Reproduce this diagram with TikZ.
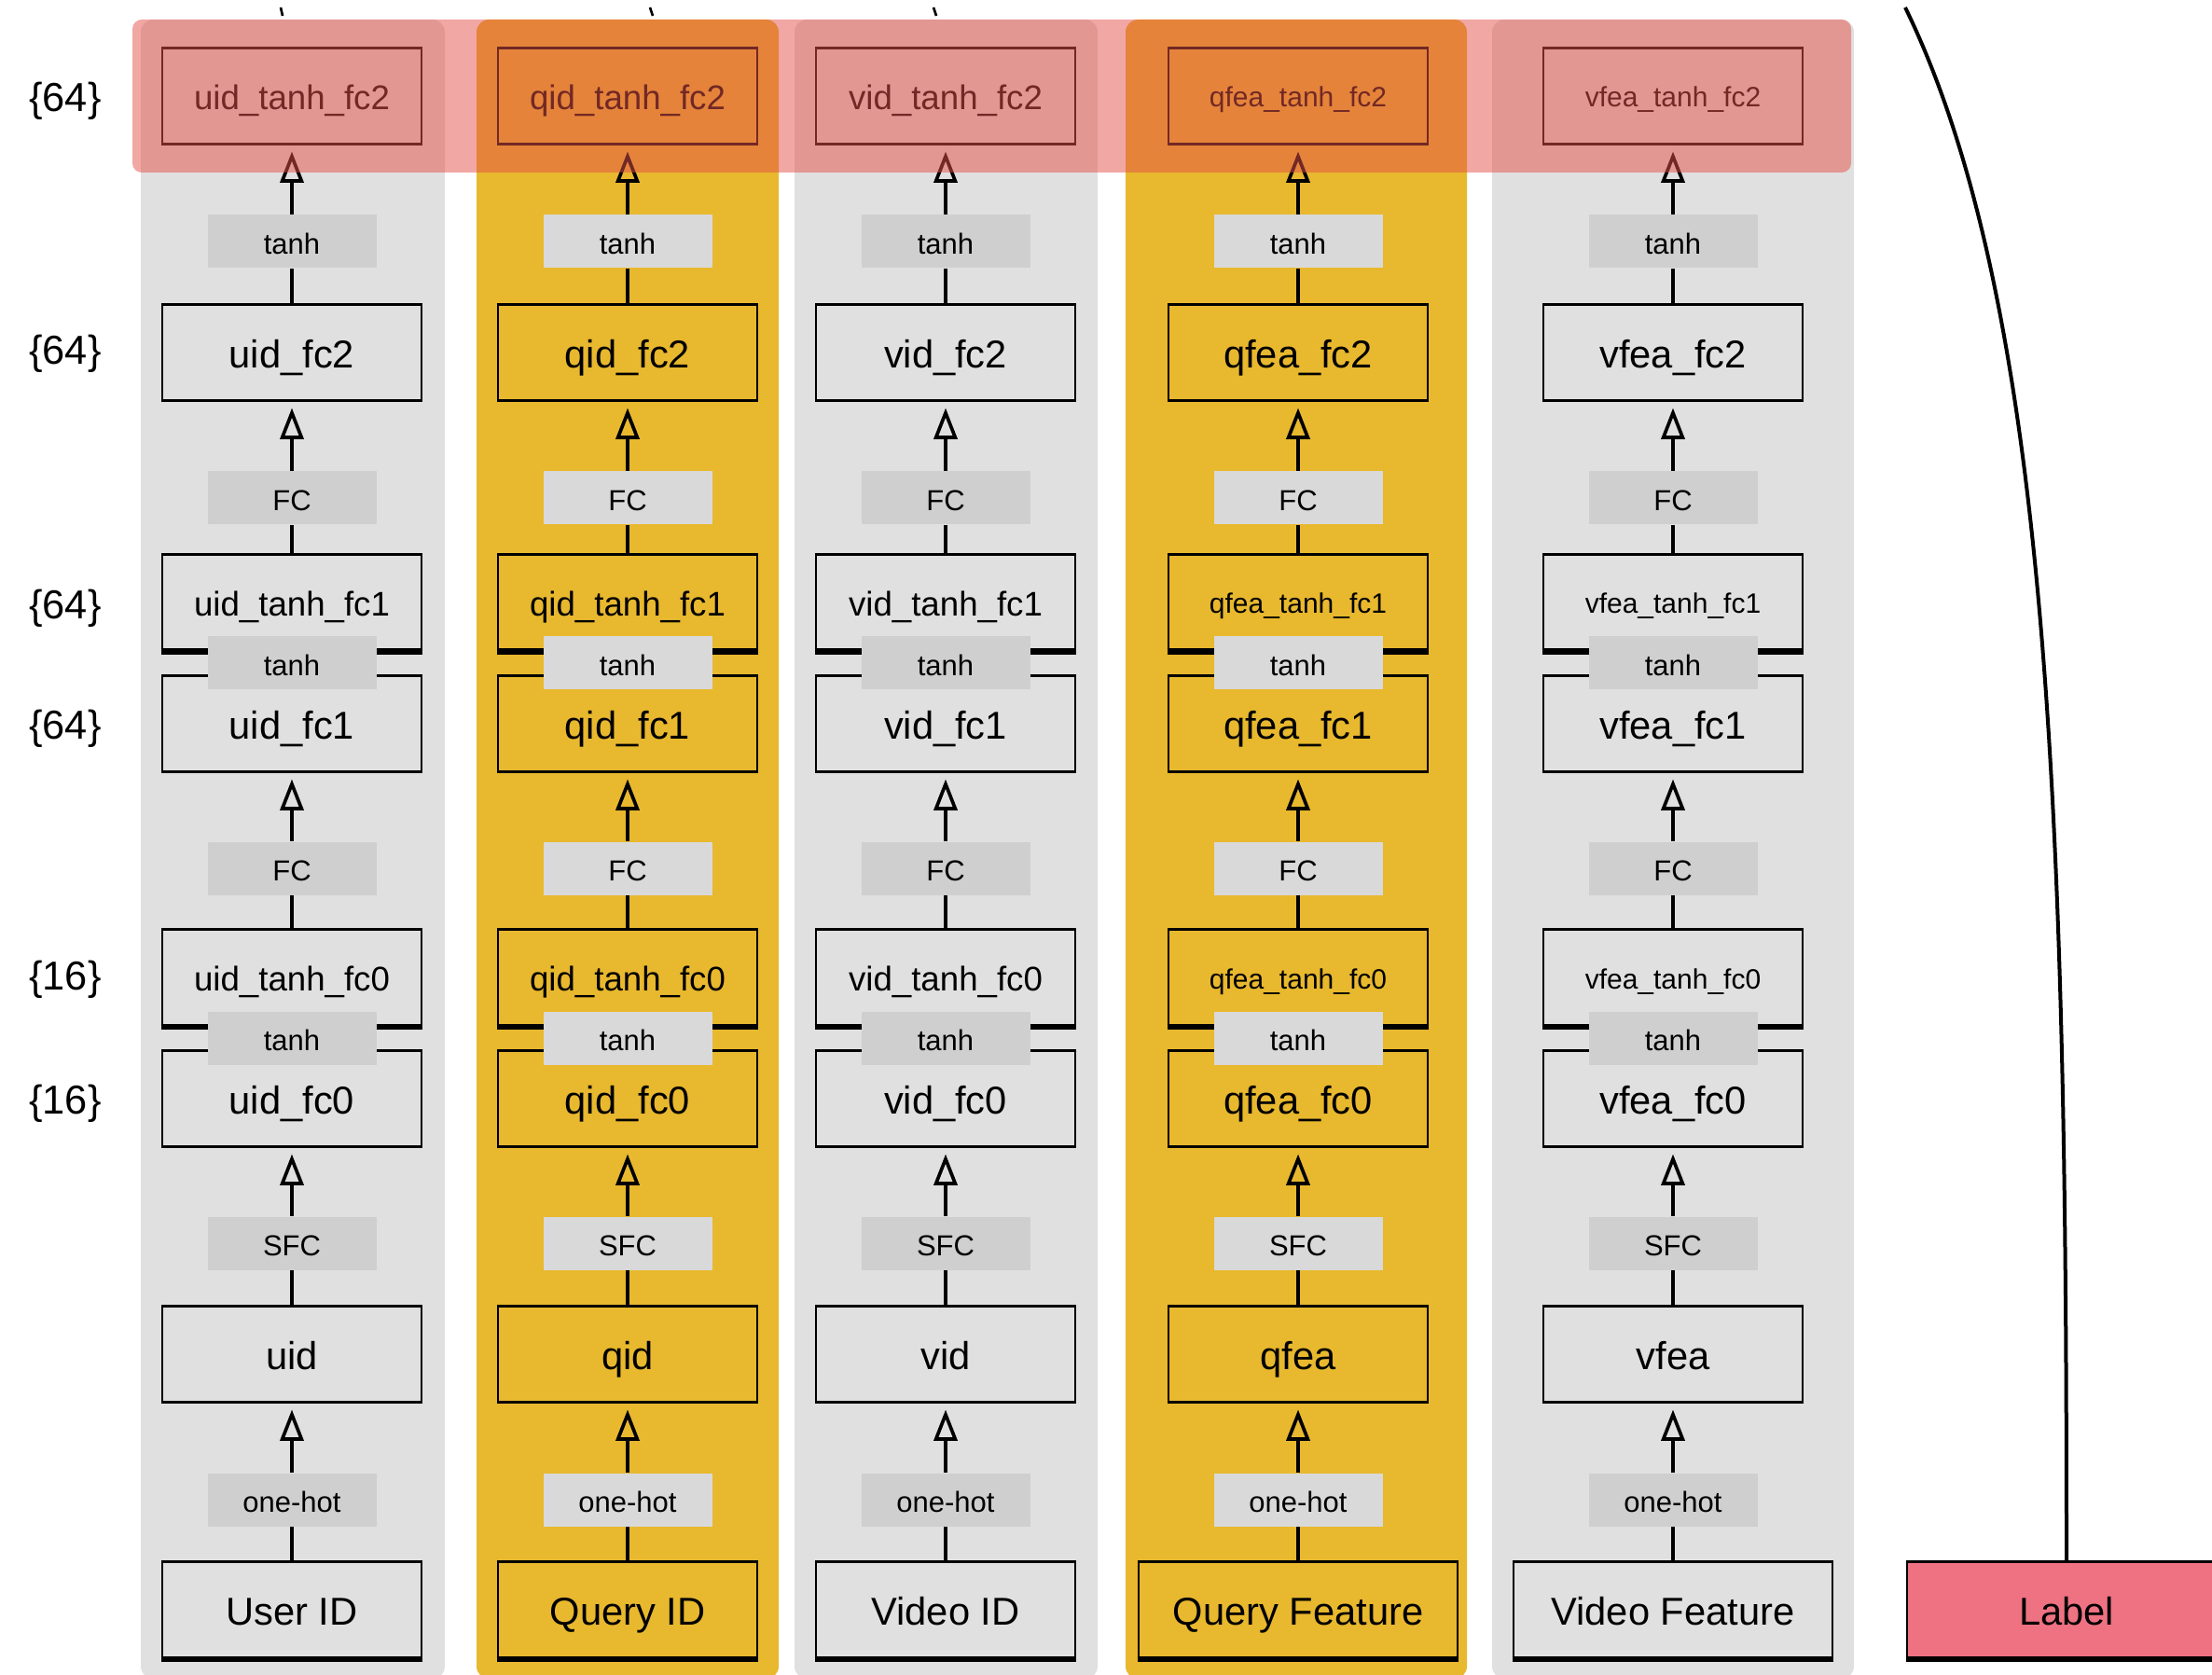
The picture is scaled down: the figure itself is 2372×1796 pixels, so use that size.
\documentclass[tikz,border=0pt]{standalone}
\usepackage{fontspec}
\setmainfont{Liberation Sans}
\usetikzlibrary{arrows.meta}
\definecolor{colgray}{RGB}{224,224,224}
\definecolor{colyel}{RGB}{232,184,46}
\definecolor{lblgrayA}{RGB}{207,207,207}
\definecolor{lblgrayB}{RGB}{217,217,217}
\definecolor{bandred}{RGB}{228,80,72}
\definecolor{labelpink}{RGB}{238,114,130}
\begin{document}
\begin{tikzpicture}[x=0.3pt,y=-0.3pt,
  box/.style={draw=black,line width=0.8pt,minimum width=83.4pt,minimum height=30.9pt,inner sep=0pt,text height=10pt,text depth=0pt,font=\fontsize{12.5}{14}\selectfont},
  opbox/.style={minimum width=54.3pt,minimum height=17.1pt,inner sep=0pt,text height=8pt,text depth=0pt,font=\fontsize{9.3}{11}\selectfont},
  conn/.style={line width=1.2pt},
  arr/.style={line width=1.2pt,shorten >=2pt,-{Triangle[open,length=10pt,width=7.5pt,line width=1.1pt]}},
  brace/.style={font=\fontsize{13}{15}\selectfont,text height=10pt,text depth=0pt},
  thickbot/.style={line width=2pt}
]
\useasboundingbox (0,0) rectangle (2372,1796);
\fill[white] (0,0) rectangle (2372,1796);

% column backgrounds
\fill[colgray, rounded corners=4pt] (151,21) rectangle (477,1800);
\fill[colyel,  rounded corners=4pt] (511,21) rectangle (835,1800);
\fill[colgray, rounded corners=4pt] (852,21) rectangle (1177,1800);
\fill[colyel,  rounded corners=4pt] (1207,21) rectangle (1573,1800);
\fill[colgray, rounded corners=4pt] (1600,21) rectangle (1988,1800);

\foreach \cx/\p/\colc/\labc/\tfs/\inwd/\intxt in {
  313/uid/colgray/lblgrayA/11/83.4/User ID,
  673/qid/colyel/lblgrayB/11/83.4/Query ID,
  1014/vid/colgray/lblgrayA/11/83.4/Video ID,
  1392/qfea/colyel/lblgrayB/9/102.6/Query Feature,
  1794/vfea/colgray/lblgrayA/9/102.6/Video Feature}{
  % boxes
  \node[box,fill=\colc,minimum width=\inwd pt] (\p-in) at (\cx,1726) {\intxt};
  \node[box,fill=\colc] (\p-emb) at (\cx,1452) {\p};
  \node[box,fill=\colc] (\p-fc0) at (\cx,1178) {\p\_fc0};
  \node[box,fill=\colc,text height=0.8*\tfs pt,font=\fontsize{\tfs}{\tfs}\selectfont] (\p-tfc0) at (\cx,1048) {\p\_tanh\_fc0};
  \node[box,fill=\colc] (\p-fc1) at (\cx,776) {\p\_fc1};
  \node[box,fill=\colc,text height=0.8*\tfs pt,font=\fontsize{\tfs}{\tfs}\selectfont] (\p-tfc1) at (\cx,646) {\p\_tanh\_fc1};
  \node[box,fill=\colc] (\p-fc2) at (\cx,378) {\p\_fc2};
  \node[box,fill=\colc,text height=0.8*\tfs pt,font=\fontsize{\tfs}{\tfs}\selectfont] (\p-tfc2) at (\cx,103) {\p\_tanh\_fc2};
  \draw[thickbot] (\p-in.south west) -- (\p-in.south east);
  \draw[thickbot] (\p-tfc0.south west) -- (\p-tfc0.south east);
  \draw[thickbot] (\p-tfc1.south west) -- (\p-tfc1.south east);
  % operation labels
  \node[opbox,fill=\labc] (\p-oh) at (\cx,1608) {one-hot};
  \node[opbox,fill=\labc] (\p-sfc) at (\cx,1333) {SFC};
  \node[opbox,fill=\labc] (\p-t0) at (\cx,1113) {tanh};
  \node[opbox,fill=\labc] (\p-fca) at (\cx,931) {FC};
  \node[opbox,fill=\labc] (\p-t1) at (\cx,711) {tanh};
  \node[opbox,fill=\labc] (\p-fcb) at (\cx,534) {FC};
  \node[opbox,fill=\labc] (\p-t2) at (\cx,259) {tanh};
  % connectors
  \draw[conn] (\p-in.north) -- (\p-oh.south);
  \draw[arr] (\p-oh.north) -- (\p-emb.south);
  \draw[conn] (\p-emb.north) -- (\p-sfc.south);
  \draw[arr] (\p-sfc.north) -- (\p-fc0.south);
  \draw[conn] (\p-tfc0.north) -- (\p-fca.south);
  \draw[arr] (\p-fca.north) -- (\p-fc1.south);
  \draw[conn] (\p-tfc1.north) -- (\p-fcb.south);
  \draw[arr] (\p-fcb.north) -- (\p-fc2.south);
  \draw[conn] (\p-fc2.north) -- (\p-t2.south);
  \draw[arr] (\p-t2.north) -- (\p-tfc2.south);
}

% top translucent band
\fill[bandred, opacity=0.5, rounded corners=3pt] (142,21) rectangle (1985,185);

% dimension labels
\node[brace] (d1) at (70,103) {\{64\}};
\node[brace] (d2) at (70,374) {\{64\}};
\node[brace] (d3) at (70,647) {\{64\}};
\node[brace] (d4) at (70,776) {\{64\}};
\node[brace] (d5) at (70,1045) {\{16\}};
\node[brace] (d6) at (70,1178) {\{16\}};

% label box and curve
\node[box,fill=labelpink,minimum width=102.6pt] (lab) at (2216,1726) {Label};
\draw[thickbot] (lab.south west) -- (lab.south east);
\coordinate (ctop) at (2043,8);
\draw[line width=1.2pt] (ctop) .. controls (2200,330) and (2216,900) .. (lab.north);

% small marks at top edge
\draw[line width=0.8pt] (301,8) -- (303,17);
\draw[line width=0.8pt] (697,8) -- (700,17);
\draw[line width=0.8pt] (1001,8) -- (1004,17);
\end{tikzpicture}
\end{document}
